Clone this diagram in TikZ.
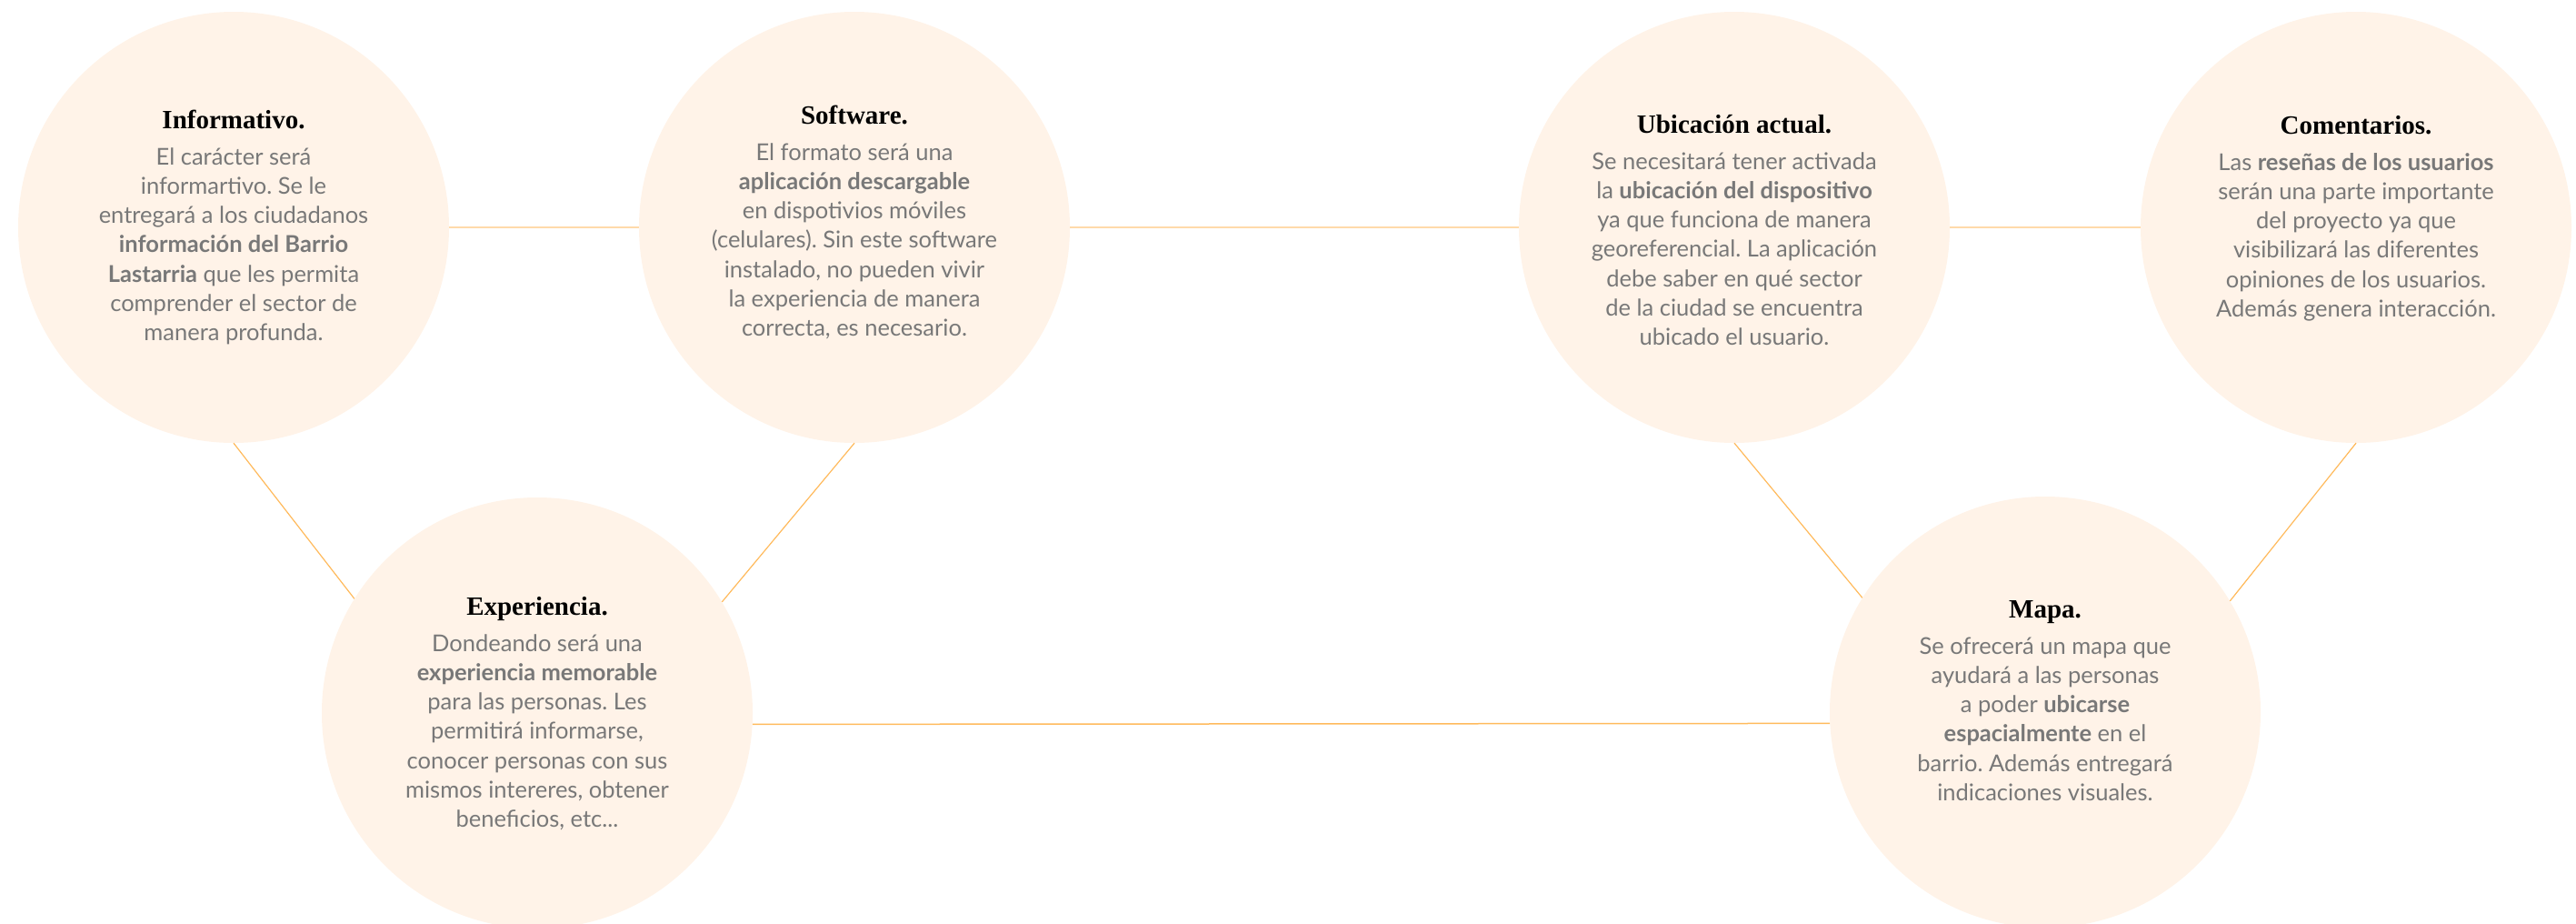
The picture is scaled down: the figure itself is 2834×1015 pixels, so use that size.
\documentclass[tikz,border=0pt]{standalone}
\usepackage{fontspec}
\usetikzlibrary{positioning}
\newfontfamily\titlefont{Liberation Serif}
\newfontfamily\bodyfont{Lato}
\frenchspacing
\definecolor{bubble}{HTML}{FFF3E8}
\definecolor{peach}{HTML}{FFDAAA}
\definecolor{amber}{HTML}{FFBA5C}
\definecolor{greytext}{HTML}{787878}
\tikzset{
  bubble/.style={circle, fill=bubble, draw=none, inner sep=0pt, minimum size=474pt},
  ttl/.style={font=\titlefont\bfseries\fontsize{29}{34}\selectfont, text=black, inner sep=0pt, text height=21pt, text depth=7pt},
  txt/.style={font=\bodyfont\fontsize{25.5}{32.3}\selectfont, text=greytext, align=center, inner sep=0pt},
  toplink/.style={peach, line width=2pt},
  link/.style={amber, line width=1.2pt},
}
\begin{document}
\begin{tikzpicture}[x=1pt, y=-1pt, node distance=10pt]
    \useasboundingbox (0,0) rectangle (2834,1015);

    % the six bubbles
    \node[bubble] (info) at (257,250) {};
    \node[bubble] (soft) at (940,250) {};
    \node[bubble] (exp) at (591,784) {};
    \node[bubble] (ubic) at (1908,250) {};
    \node[bubble] (coment) at (2592,250) {};
    \node[bubble] (mapa) at (2250,783) {};

    % links along the top
    \draw[toplink] (info.east) -- (soft.west);
    \draw[toplink] (soft.east) -- (ubic.west);
    \draw[toplink] (ubic.east) -- (coment.west);
    % links down to the lower bubbles
    \draw[link] (info.south) -- (exp.148);
    \draw[link] (soft.south) -- (exp.31);
    \draw[link] (ubic.south) -- (mapa.148);
    \draw[link] (coment.south) -- (mapa.31);
    \draw[amber, line width=1.5pt] (exp.-3) -- (mapa.183);

    % Informativo
    \node[ttl] (infoT) at (257,134) {Informativo.};
    \node[txt, below=of infoT] (infoB) {\strut El carácter será\\ informartivo. Se le\\ entregará a los ciudadanos\\ \textbf{información del Barrio}\\ \textbf{Lastarria} que les permita\\ comprender el sector de\\ manera profunda.};

    % Software
    \node[ttl] (softT) at (940,129) {Software.};
    \node[txt, below=of softT] (softB) {\strut El formato será una\\ \textbf{aplicación descargable}\\ en dispotivios móviles\\ (celulares). Sin este software\\ instalado, no pueden vivir\\ la experiencia de manera\\ correcta, es necesario.};

    % Experiencia
    \node[ttl] (expT) at (591,669) {Experiencia.};
    \node[txt, below=of expT] (expB) {\strut Dondeando será una\\ \textbf{experiencia memorable}\\ para las personas. Les\\ permitirá informarse,\\ conocer personas con sus\\ mismos intereres, obtener\\ beneficios, etc...};

    % Ubicacion actual
    \node[ttl] (ubicT) at (1908,139) {Ubicación actual.};
    \node[txt, below=of ubicT] (ubicB) {\strut Se necesitará tener activada\\ la \textbf{ubicación del dispositivo}\\ ya que funciona de manera\\ georeferencial. La aplicación\\ debe saber en qué sector\\ de la ciudad se encuentra\\ ubicado el usuario.};

    % Comentarios
    \node[ttl] (comentT) at (2592,140) {Comentarios.};
    \node[txt, below=of comentT] (comentB) {\strut Las \textbf{reseñas de los usuarios}\\ serán una parte importante\\ del proyecto ya que\\ visibilizará las diferentes\\ opiniones de los usuarios.\\ Además genera interacción.};

    % Mapa
    \node[ttl] (mapaT) at (2250,672) {Mapa.};
    \node[txt, below=of mapaT] (mapaB) {\strut Se ofrecerá un mapa que\\ ayudará a las personas\\ a poder \textbf{ubicarse}\\ \textbf{espacialmente} en el\\ barrio. Además entregará\\ indicaciones visuales.};
\end{tikzpicture}
\end{document}
